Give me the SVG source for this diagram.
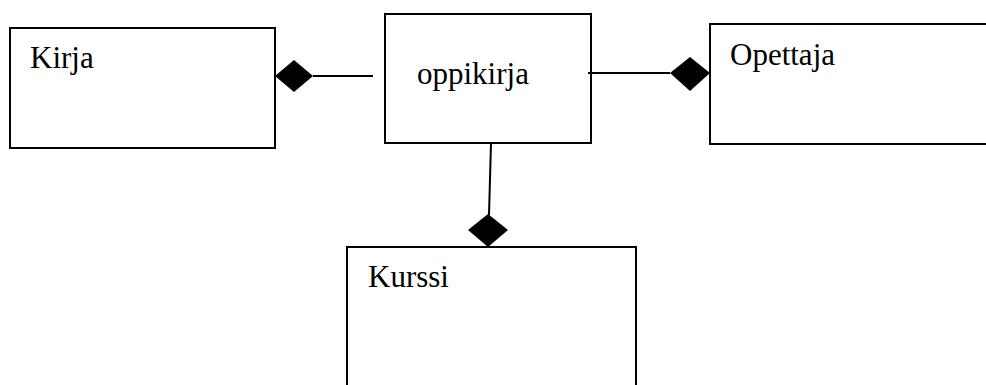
<svg xmlns="http://www.w3.org/2000/svg" width="986" height="385" viewBox="0 0 986 385">
<style>
.box{fill:#fff;stroke:#000;stroke-width:2}
.lbl{font-family:"Liberation Serif","Times New Roman",serif;font-size:31px;fill:#000}
.ln{stroke:#000;stroke-width:2;fill:none}
.dm{fill:#000;stroke:none}
</style>
<rect width="986" height="385" fill="#fff"/>
<g id="kirja">
<rect class="box" x="10" y="28" width="265" height="120"/>
<text class="lbl" x="30" y="68">Kirja</text>
</g>
<g id="oppikirja">
<rect class="box" x="385" y="14" width="206" height="129"/>
<text class="lbl" x="417" y="84">oppikirja</text>
</g>
<g id="opettaja">
<rect class="box" x="710" y="24" width="290" height="120"/>
<text class="lbl" x="730" y="65">Opettaja</text>
</g>
<g id="kurssi">
<rect class="box" x="347" y="247" width="289" height="150"/>
<text class="lbl" x="368" y="287">Kurssi</text>
</g>
<g id="connectors">
<line class="ln" x1="313" y1="76" x2="373" y2="76"/>
<polygon class="dm" points="275,76 294,60 313,76 294,92"/>
<line class="ln" x1="588" y1="73" x2="670" y2="73"/>
<polygon class="dm" points="670,73 690,57 710,73 690,91"/>
<line class="ln" x1="491" y1="143" x2="489" y2="215"/>
<polygon class="dm" points="468,230 488,214 508,230 488,247"/>
</g>
</svg>
